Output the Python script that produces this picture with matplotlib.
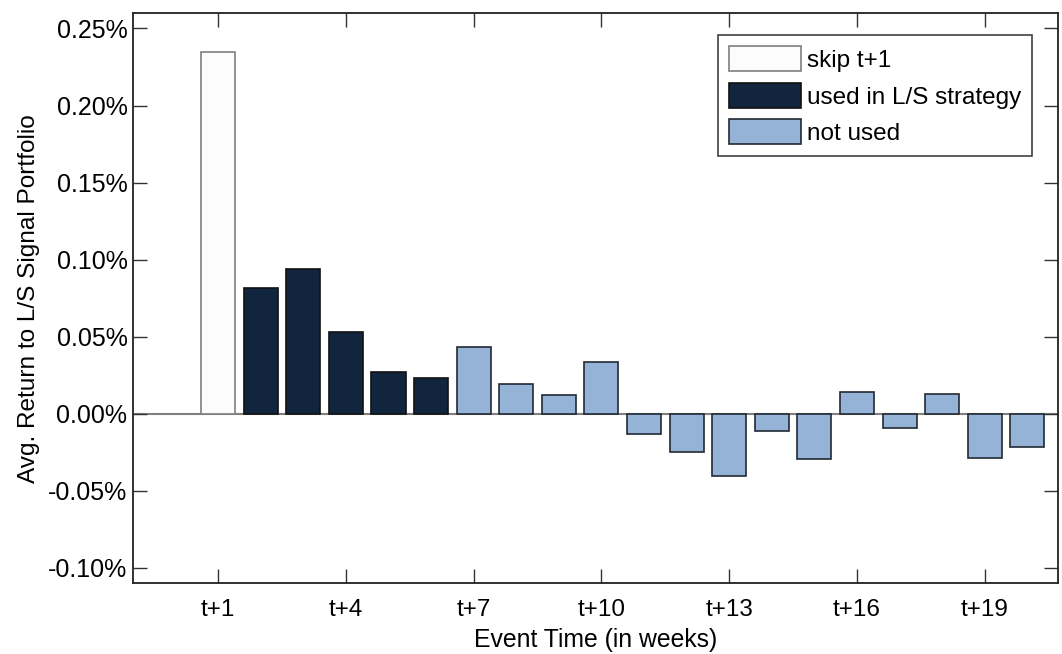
import numpy as np
import matplotlib
matplotlib.use("Agg")
import matplotlib.pyplot as plt
from matplotlib.ticker import FuncFormatter

plt.rcParams['font.family'] = ['Liberation Sans', 'DejaVu Sans']

# Données (rendement moyen, en %)
weeks = np.arange(1, 21)
returns = [0.235, 0.0818, 0.0939, 0.0532, 0.0273, 0.0232, 0.0432, 0.0195, 0.0124, 0.0339,
           -0.0128, -0.0245, -0.0401, -0.0113, -0.0295, 0.0143, -0.0095, 0.0126, -0.0288, -0.0215]
groups = ['skip'] + ['used'] * 5 + ['not'] * 14
group_labels = {'skip': 'skip t+1', 'used': 'used in L/S strategy', 'not': 'not used'}
group_colors = {'skip': '#fcfcfc', 'used': '#12253f', 'not': '#95b3d7'}
group_edges = {'skip': '#7f7f7f', 'used': '#111111', 'not': '#222a33'}
tick_weeks = [1, 4, 7, 10, 13, 16, 19]
tick_labels = ['t+%d' % w for w in tick_weeks]
y_ticks = [-0.10, -0.05, 0.00, 0.05, 0.10, 0.15, 0.20, 0.25]

fig = plt.figure(figsize=(10.62, 6.54), dpi=100)
ax = fig.add_axes([0.1252, 0.108, 0.871, 0.872])

# Ligne du zéro
ax.axhline(0, color='#808080', lw=1.5, zorder=1)

# Barres, groupe par groupe pour la légende
for g in ['skip', 'used', 'not']:
    idx = [i for i, gg in enumerate(groups) if gg == g]
    ax.bar(weeks[idx], [returns[i] for i in idx], width=0.8,
           color=group_colors[g], edgecolor=group_edges[g], linewidth=1.2,
           label=group_labels[g], zorder=2)

ax.set_xlim(-1, 20.72)
ax.set_ylim(-0.11, 0.26)
ax.set_xticks(tick_weeks)
ax.set_xticklabels(tick_labels)
ax.set_yticks(y_ticks)
ax.yaxis.set_major_formatter(FuncFormatter(lambda v, p: '%.2f%%' % v))

ax.tick_params(direction='in', length=10, width=1, top=True, right=True, color='#333333')
ax.tick_params(axis='y', labelsize=18, pad=4)
ax.tick_params(axis='x', labelsize=17.5, pad=11)
for s in ax.spines.values():
    s.set_linewidth(1.3)
    s.set_color('#222222')

ax.set_xlabel('Event Time (in weeks)', fontsize=17.8, labelpad=5)
ax.set_ylabel('Avg. Return to L/S Signal Portfolio', fontsize=17.6, labelpad=6)

# Légende
leg = ax.legend(loc='upper right', bbox_to_anchor=(0.972, 0.961), borderaxespad=0,
                fontsize=17.5, frameon=True, fancybox=False, handlelength=2.95,
                handleheight=1.2, handletextpad=0.25, labelspacing=0.45, borderpad=0.45)
leg.get_frame().set_edgecolor('#111111')
leg.get_frame().set_linewidth(1.2)

fig.savefig('out.png', dpi=100)
